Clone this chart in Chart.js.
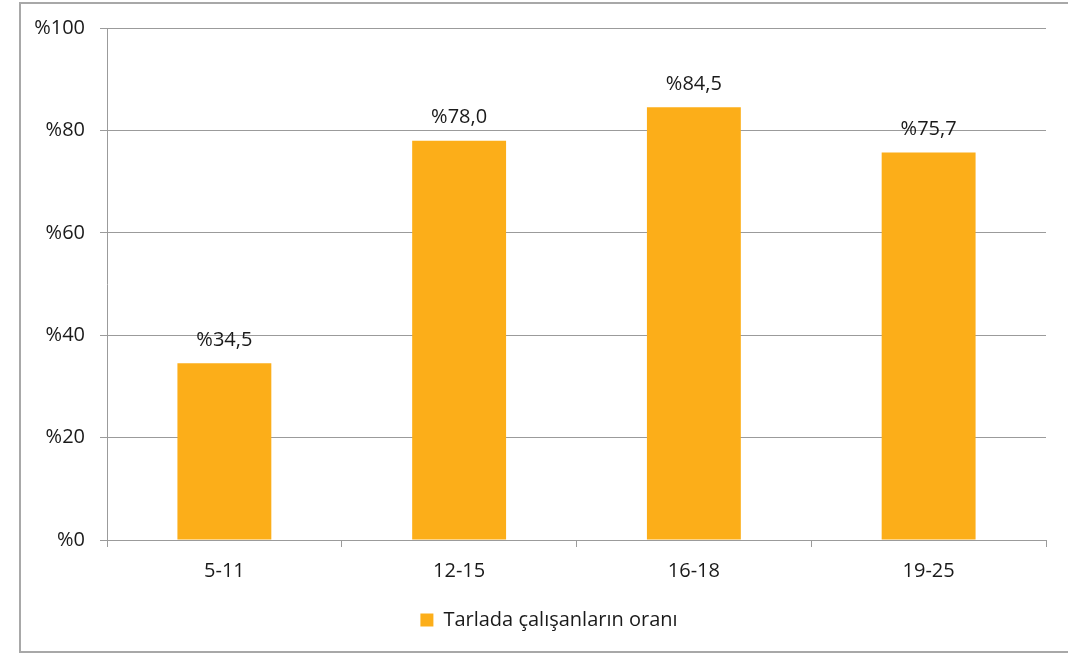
<!DOCTYPE html>
<html lang="tr">
<head>
  <meta charset="UTF-8" />
  <title>Tarlada çalışanların oranı</title>
  <script src="https://cdn.jsdelivr.net/npm/chart.js@4.4.0/dist/chart.umd.min.js"></script>
  <style>
    body { margin: 0; background: #fff; }
    #wrap { width: 1068px; height: 654px; position: relative; }
  </style>
</head>
<body>
  <div id="wrap"><canvas id="chart"></canvas></div>
  <script>
    const categories = ['5-11', '12-15', '16-18', '19-25'];
    const rates = [34.5, 78.0, 84.5, 75.7];
    const seriesName = 'Tarlada çalışanların oranı';
    const yTicks = [0, 20, 40, 60, 80, 100];

    const FONT = "'Open Sans', 'Noto Sans', sans-serif";
    const FSIZE = 20;
    const GRID = '#9b9b9b';
    const fmt = v => '%' + v.toFixed(1).replace('.', ',');

    // outer frame of the chart object (right edge runs off the picture)
    const framePlugin = {
      id: 'frame',
      beforeDraw(chart) {
        const c = chart.ctx;
        c.save();
        c.strokeStyle = '#a8a8a8';
        c.lineWidth = 2;
        c.beginPath();
        c.moveTo(1080, 3);
        c.lineTo(20, 3);
        c.lineTo(20, 652);
        c.lineTo(1080, 652);
        c.stroke();
        c.restore();
      }
    };

    // value labels above each bar
    const valueLabels = {
      id: 'valueLabels',
      afterDatasetsDraw(chart) {
        const c = chart.ctx;
        const meta = chart.getDatasetMeta(0);
        c.save();
        c.font = FSIZE + 'px ' + FONT;
        c.fillStyle = '#1a1a1a';
        c.textAlign = 'center';
        c.textBaseline = 'middle';
        meta.data.forEach((bar, i) => {
          c.fillText(fmt(rates[i]), bar.x, bar.y - 23);
        });
        c.restore();
      }
    };

    // nudge legend to where the original sits
    const legendShift = {
      id: 'legendShift',
      afterLayout(chart) {
        chart.legend.left += 26;
        chart.legend.right += 26;
      }
    };

    new Chart(document.getElementById('chart'), {
      type: 'bar',
      data: {
        labels: categories,
        datasets: [{
          label: seriesName,
          data: rates,
          backgroundColor: '#fcae19',
          borderWidth: 0,
          categoryPercentage: 0.4,
          barPercentage: 1.0
        }]
      },
      options: {
        responsive: true,
        maintainAspectRatio: false,
        animation: false,
        layout: { padding: { left: 0, right: 22, top: 28, bottom: 14 } },
        scales: {
          x: {
            grid: { drawOnChartArea: false, drawTicks: true, tickLength: 7, color: GRID, offset: true },
            border: { color: GRID, width: 1 },
            ticks: { font: { family: FONT, size: FSIZE }, color: '#1a1a1a', padding: 12 },
            afterFit: s => { s.height = 60; }
          },
          y: {
            min: 0,
            max: 100,
            afterBuildTicks: s => { s.ticks = yTicks.map(v => ({ value: v })); },
            grid: { color: GRID, tickLength: 7 },
            border: { color: GRID, width: 1 },
            ticks: {
              font: { family: FONT, size: FSIZE },
              color: '#1a1a1a',
              padding: 15,
              callback: v => '%' + v
            },
            afterFit: s => { s.width = 107; }
          }
        },
        plugins: {
          legend: {
            position: 'bottom',
            labels: {
              font: { family: FONT, size: FSIZE },
              color: '#1a1a1a',
              boxWidth: 13,
              boxHeight: 13,
              padding: 10
            }
          },
          tooltip: { enabled: false }
        }
      },
      plugins: [framePlugin, valueLabels, legendShift]
    });
  </script>
</body>
</html>
